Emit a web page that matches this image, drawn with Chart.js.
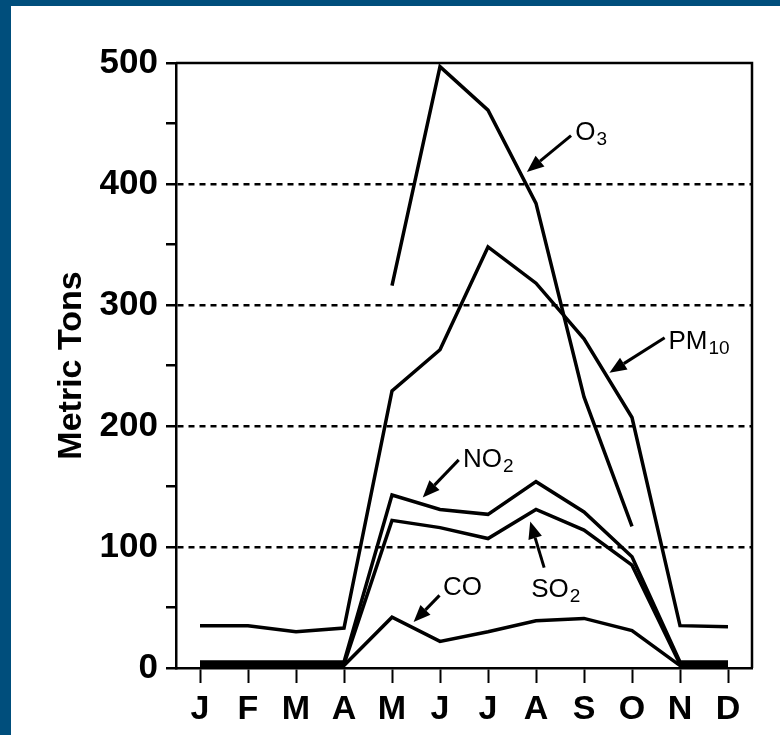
<!DOCTYPE html>
<html>
<head>
<meta charset="utf-8">
<script src="https://cdn.jsdelivr.net/npm/chart.js@4.4.1/dist/chart.umd.min.js"></script>
<style>
  html, body { margin: 0; padding: 0; background: #004e7c; }
  #wrap { position: absolute; left: 11px; top: 6px; width: 769px; height: 729px; background: #fff; }
</style>
</head>
<body>
<div id="wrap"><canvas id="chart"></canvas></div>
<script>
// datos (toneladas métricas por mes)
const months = ['J', 'F', 'M', 'A', 'M', 'J', 'J', 'A', 'S', 'O', 'N', 'D'];
const pm10 = [35, 35, 30, 33, 229, 263, 348, 318, 272, 207, 35, 34];
const o3   = [null, null, null, null, 316, 497, 461, 384, 224, 117, null, null];
const no2  = [5, 5, 5, 5, 143, 131, 127, 154, 129, 92, 5, 5];
const so2  = [3, 3, 3, 3, 122, 116, 107, 131, 114, 85, 3, 3];
const co   = [2, 2, 2, 2, 42, 22, 30, 39, 41, 31, 2, 2];
const yTicks = [0, 100, 200, 300, 400, 500];

// etiquetas con flecha, en unidades de datos (indice de mes, valor)
const notes = [
  { name: 'O',  sub: '3',  at: [7.82, 436], tail: [7.73, 440], tip: [6.81, 410] },
  { name: 'PM', sub: '10', at: [9.76, 264], tail: [9.68, 273], tip: [8.53, 244] },
  { name: 'NO', sub: '2',  at: [5.48, 166], tail: [5.39, 172], tip: [4.64, 141] },
  { name: 'SO', sub: '2',  at: [6.90, 59],  tail: [7.17, 83],  tip: [6.88, 121] },
  { name: 'CO', sub: '',   at: [5.06, 60],  tail: [4.99, 60],  tip: [4.45, 38] }
];

const sans = "'Liberation Sans', Arial, Helvetica, sans-serif";

const notesPlugin = {
  id: 'notes',
  afterDatasetsDraw(chart) {
    const { ctx, scales: { x, y } } = chart;
    ctx.save();
    ctx.fillStyle = '#000';
    ctx.strokeStyle = '#000';
    notes.forEach(n => {
      const tx = x.getPixelForValue(n.tail[0]), ty = y.getPixelForValue(n.tail[1]);
      const hx = x.getPixelForValue(n.tip[0]),  hy = y.getPixelForValue(n.tip[1]);
      const ang = Math.atan2(hy - ty, hx - tx);
      const head = 17, half = 7;
      const bx = hx - Math.cos(ang) * head, by = hy - Math.sin(ang) * head;
      ctx.lineWidth = 3;
      ctx.beginPath();
      ctx.moveTo(tx, ty);
      ctx.lineTo(bx, by);
      ctx.stroke();
      ctx.beginPath();
      ctx.moveTo(hx, hy);
      ctx.lineTo(bx + Math.sin(ang) * half, by - Math.cos(ang) * half);
      ctx.lineTo(bx - Math.sin(ang) * half, by + Math.cos(ang) * half);
      ctx.closePath();
      ctx.fill();

      // texto con subindice
      const px = x.getPixelForValue(n.at[0]), py = y.getPixelForValue(n.at[1]);
      ctx.textBaseline = 'alphabetic';
      ctx.textAlign = 'left';
      ctx.font = '26px ' + sans;
      ctx.fillText(n.name, px, py);
      const w = ctx.measureText(n.name).width;
      ctx.font = '19px ' + sans;
      ctx.fillText(n.sub, px + w + 1, py + 5);
    });
    ctx.restore();
  }
};

// marco superior y derecho del area
const framePlugin = {
  id: 'frame',
  afterDraw(chart) {
    const { ctx, chartArea: a } = chart;
    ctx.save();
    ctx.strokeStyle = '#000';
    ctx.lineWidth = 2.5;
    ctx.beginPath();
    ctx.moveTo(a.left, a.top);
    ctx.lineTo(a.right, a.top);
    ctx.lineTo(a.right, a.bottom);
    ctx.stroke();
    ctx.restore();
  }
};

function serie(label, data) {
  return { label, data, borderColor: '#000', borderWidth: 3.5, pointRadius: 0, tension: 0, fill: false, spanGaps: false };
}

const ctx = document.getElementById('chart').getContext('2d');
new Chart(ctx, {
  type: 'line',
  data: {
    labels: months,
    datasets: [serie('PM10', pm10), serie('O3', o3), serie('NO2', no2), serie('SO2', so2), serie('CO', co)]
  },
  options: {
    responsive: true,
    maintainAspectRatio: false,
    animation: false,
    layout: { padding: { top: 57, right: 28, left: 0, bottom: 0 } },
    plugins: { legend: { display: false }, tooltip: { enabled: false } },
    scales: {
      x: {
        offset: true,
        ticks: { color: '#000', font: { family: sans, size: 34, weight: 'bold' }, padding: 6, maxRotation: 0, autoSkip: false },
        grid: { offset: false, color: 'rgba(0,0,0,0)', tickColor: '#000', tickLength: 15, tickWidth: 2 },
        border: { display: true, color: '#000', width: 2.5 },
        afterFit: s => { s.height = 67; }
      },
      y: {
        min: 0,
        max: 500,
        ticks: {
          stepSize: 50,
          color: '#000',
          font: { family: sans, size: 35, weight: 'bold' },
          padding: 8,
          callback: v => yTicks.includes(v) ? v : ''
        },
        grid: {
          color: c => (c.tick && c.tick.value > 0 && c.tick.value < 500 && c.tick.value % 100 === 0) ? '#000' : 'rgba(0,0,0,0)',
          lineWidth: 2.5,
          tickColor: '#000',
          tickLength: 10,
          tickWidth: 2.5
        },
        border: { display: true, color: '#000', width: 2.5, dash: [6, 5] },
        title: {
          display: true,
          text: 'Metric Tons',
          color: '#000',
          font: { family: sans, size: 34, weight: 'bold' },
          padding: { top: 40, bottom: 0 }
        },
        afterFit: s => { s.width = 165; }
      }
    }
  },
  plugins: [notesPlugin, framePlugin]
});
</script>
</body>
</html>
